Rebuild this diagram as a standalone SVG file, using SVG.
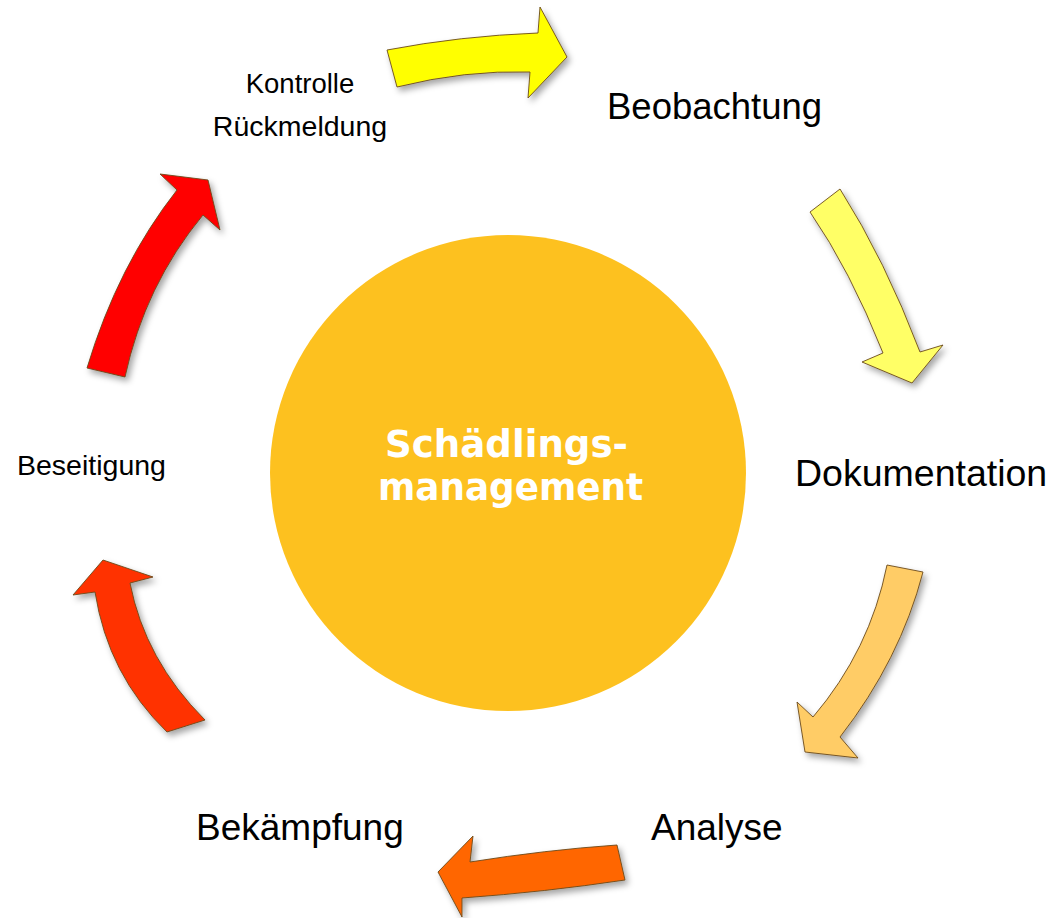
<svg xmlns="http://www.w3.org/2000/svg" width="1052" height="918" viewBox="0 0 1052 918">
<defs>
<filter id="sh" x="-20%" y="-20%" width="140%" height="140%">
<feDropShadow dx="3" dy="4" stdDeviation="3" flood-color="#000" flood-opacity="0.35"/>
</filter>
<style>
.arr{stroke:#6b4a1a;stroke-width:0.9;stroke-linejoin:miter;filter:url(#sh)}
.lbl{font-family:"Liberation Sans",Arial,sans-serif;fill:#000}
.ctr{font-family:"DejaVu Sans",Verdana,sans-serif;font-weight:bold;fill:#fff;font-size:37px}
</style>
</defs>
<rect width="1052" height="918" fill="#fff"/>
<g id="center">
<circle cx="508" cy="473" r="238" fill="#FDC11F"/>
<text class="ctr" x="385" y="457" textLength="243" lengthAdjust="spacingAndGlyphs">Schädlings-</text>
<text class="ctr" x="378" y="500" textLength="265" lengthAdjust="spacingAndGlyphs">management</text>
</g>
<g id="connectors">
<path class="arr" fill="#FFFF00" d="M387,50 Q460,36 538,33 L540,7 L567,57 L528,98 L530,72 Q465,70 397,87 Z"/>
<path class="arr" fill="#FFFF66" d="M810,212 L840,189 Q885,260 920,352 L943,345 L912,383 L862,362 L883,353 Q850,270 810,212 Z"/>
<path class="arr" fill="#FFCC66" d="M887,565 L923,572 Q900,660 840,737 L858,758 L805,752 L797,702 L813,717 Q870,650 887,565 Z"/>
<path class="arr" fill="#FF6600" d="M617,845 L625,880 Q545,892 462,898 L462,917 L438,872 L473,836 L470,862 Q545,850 617,845 Z"/>
<path class="arr" fill="#FF3300" d="M167,732 L205,720 Q145,660 130,583 L153,577 L103,560 L73,595 L95,592 Q108,675 167,732 Z"/>
<path class="arr" fill="#FF0000" d="M87,368 L125,377 Q145,285 203,215 L220,230 L208,180 L160,174 L177,190 Q118,265 87,368 Z"/>
</g>
<g id="beobachtung"><text class="lbl" x="607" y="119" font-size="36.5">Beobachtung</text></g>
<g id="dokumentation"><text class="lbl" x="795" y="486" font-size="37.5">Dokumentation</text></g>
<g id="analyse"><text class="lbl" x="651" y="840" font-size="37">Analyse</text></g>
<g id="bekaempfung"><text class="lbl" x="196" y="840" font-size="37">Bekämpfung</text></g>
<g id="beseitigung"><text class="lbl" x="17" y="475" font-size="28.5">Beseitigung</text></g>
<g id="kontrolle"><text class="lbl" x="300" y="93" font-size="27.5" text-anchor="middle">Kontrolle</text><text class="lbl" x="300" y="136" font-size="28.5" text-anchor="middle">Rückmeldung</text></g>
</svg>
